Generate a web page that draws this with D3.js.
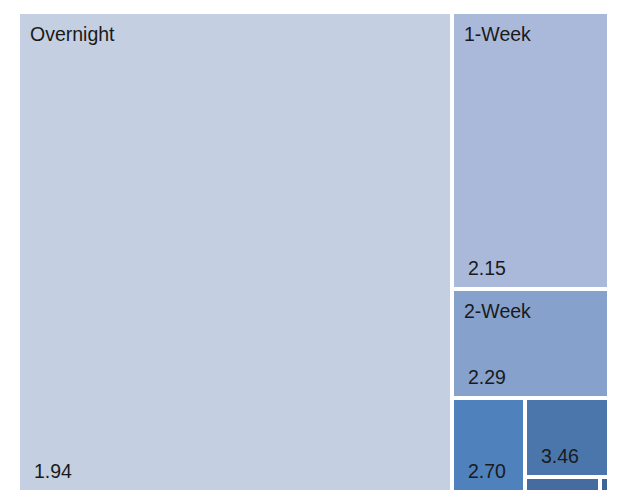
<!DOCTYPE html>
<html>
<head>
<meta charset="utf-8">
<script src="https://cdn.jsdelivr.net/npm/d3@7"></script>
<style>
  html, body { margin: 0; padding: 0; background: #ffffff; }
  svg { display: block; }
</style>
</head>
<body>
<svg id="chart" width="624" height="501"></svg>
<script>
// Data
const categories = ["Overnight", "1-Week", "2-Week", "1-Month", "3-Month", "6-Month", "1-Year"];
const shares     = [73.4, 15.25, 6.0, 2.41, 2.33, 0.40, 0.05];   // tile size
const rates      = [1.94, 2.15, 2.29, 2.70, 3.46, null, null];    // label value
const colors     = ["#c5cfe2", "#aab9d9", "#86a1cc", "#4f81bd", "#4a76ab", "#456b9f", "#3f6496"];

const svg = d3.select("#chart");
const mLeft = 20, mTop = 14, plotW = 587, plotH = 476;

const rootData = {
  name: "root",
  children: categories.map((c, i) => ({ name: c, value: shares[i], rate: rates[i], color: colors[i] }))
};

const root = d3.hierarchy(rootData)
  .sum(d => d.value || 0)
  .sort((a, b) => b.value - a.value);

d3.treemap()
  .tile(d3.treemapSquarify.ratio(1))
  .size([plotW, plotH])
  .paddingInner(4)
  .round(true)(root);

const g = svg.append("g").attr("transform", `translate(${mLeft},${mTop})`);

const cell = g.selectAll("g.cell")
  .data(root.leaves())
  .join("g")
  .attr("class", "cell")
  .attr("transform", d => `translate(${d.x0},${d.y0})`);

cell.append("rect")
  .attr("width", d => d.x1 - d.x0)
  .attr("height", d => d.y1 - d.y0)
  .attr("fill", d => d.data.color);

const font = "Liberation Sans, Arial, Helvetica, sans-serif";

// Category names (only on tall tiles)
cell.filter(d => (d.y1 - d.y0) >= 100)
  .append("text")
  .attr("x", 10)
  .attr("y", 27)
  .attr("font-family", font)
  .attr("font-size", 19.5)
  .attr("fill", "#1a1a1a")
  .text(d => d.data.name);

// Values (bottom-left)
cell.filter(d => d.data.rate != null && (d.y1 - d.y0) >= 40)
  .append("text")
  .attr("x", 14)
  .attr("y", d => (d.y1 - d.y0) - 12)
  .attr("font-family", font)
  .attr("font-size", 19.5)
  .attr("fill", "#1a1a1a")
  .text(d => d.data.rate.toFixed(2));
</script>
</body>
</html>
